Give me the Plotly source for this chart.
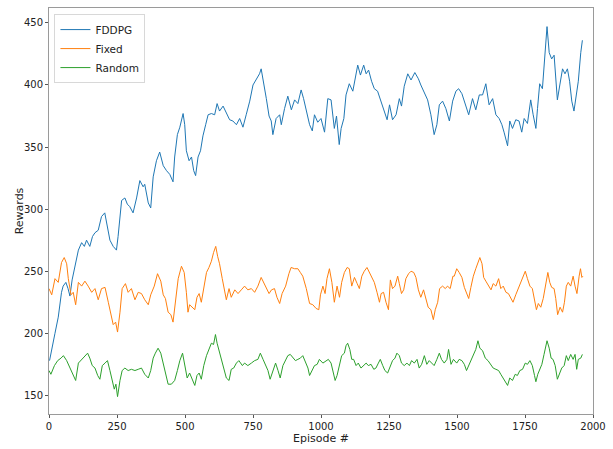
import plotly.graph_objects as go

# ---- data ----
fddpg_ep = [2, 12, 22, 34, 46, 52, 62, 70, 77, 85, 96, 108, 120, 130, 138, 150, 160, 169, 181, 193,
            205, 212, 224, 236, 248, 254, 267, 279, 288, 297, 309, 322, 334, 346, 352, 365, 374, 383, 395, 407,
            420, 432, 444, 456, 462, 472, 481, 493, 499, 505, 515, 524, 532, 539, 548, 557, 566, 576, 585, 597,
            609, 618, 627, 640, 652, 664, 676, 689, 701, 713, 725, 738, 750, 762, 774, 780, 789, 799, 809, 817,
            823, 835, 848, 854, 866, 878, 891, 903, 915, 927, 936, 946, 958, 968, 976, 988, 1000, 1013, 1025, 1037,
            1049, 1057, 1067, 1074, 1084, 1092, 1104, 1117, 1129, 1135, 1145, 1157, 1166, 1175, 1186, 1196, 1208, 1221, 1233, 1243,
            1252, 1263, 1276, 1288, 1296, 1306, 1319, 1331, 1345, 1358, 1367, 1380, 1392, 1404, 1416, 1426, 1435, 1447, 1459, 1472,
            1484, 1496, 1506, 1518, 1530, 1543, 1557, 1569, 1582, 1594, 1606, 1618, 1631, 1643, 1655, 1665, 1673, 1686, 1694, 1704,
            1716, 1728, 1738, 1747, 1759, 1771, 1780, 1790, 1796, 1804, 1814, 1824, 1831, 1839, 1848, 1857, 1863, 1869, 1878, 1888,
            1897, 1906, 1914, 1922, 1930, 1939, 1946, 1955, 1961]
fddpg = [178, 190, 200, 213, 233, 238, 241, 236, 230, 243, 255, 267, 273, 270, 275, 270, 278, 281, 283, 294,
         297, 289, 275, 270, 267, 278, 307, 309, 304, 302, 297, 309, 323, 318, 320, 305, 301, 326, 339, 346,
         335, 331, 328, 322, 342, 360, 366, 377, 368, 347, 339, 342, 331, 327, 342, 347, 359, 368, 376, 377,
         376, 385, 379, 383, 377, 372, 371, 368, 373, 366, 376, 387, 400, 405, 409, 413, 403, 389, 375, 371,
         360, 373, 376, 368, 381, 391, 380, 388, 385, 396, 389, 379, 368, 363, 376, 370, 373, 362, 389, 388,
         365, 375, 352, 365, 373, 392, 401, 395, 410, 416, 408, 416, 409, 412, 403, 397, 395, 387, 379, 372,
         384, 372, 376, 389, 383, 399, 409, 404, 410, 405, 400, 393, 388, 376, 360, 368, 384, 387, 381, 371,
         387, 395, 397, 393, 385, 376, 389, 380, 392, 392, 401, 384, 389, 376, 373, 368, 362, 351, 371, 365,
         372, 371, 362, 373, 369, 388, 376, 365, 381, 401, 397, 426, 447, 426, 421, 424, 405, 388, 400, 413,
         409, 413, 403, 387, 379, 392, 403, 426, 436]

fixed_ep = [0, 10, 22, 34, 46, 56, 65, 71, 81, 89, 98, 108, 120, 132, 144, 157, 169, 181, 193, 206,
            218, 228, 236, 245, 252, 261, 269, 281, 291, 303, 316, 328, 340, 352, 365, 374, 387, 399, 411, 420,
            428, 438, 448, 456, 465, 475, 487, 497, 505, 511, 517, 527, 536, 544, 552, 560, 569, 579, 588, 597,
            605, 613, 620, 627, 637, 646, 652, 662, 670, 683, 695, 707, 719, 731, 744, 756, 768, 780, 789, 799,
            809, 818, 829, 838, 848, 857, 870, 882, 890, 903, 915, 924, 933, 946, 958, 970, 982, 992, 998, 1007,
            1015, 1022, 1031, 1040, 1049, 1059, 1068, 1076, 1086, 1096, 1104, 1113, 1123, 1133, 1141, 1150, 1159, 1169, 1178, 1186,
            1196, 1206, 1215, 1221, 1230, 1239, 1248, 1255, 1263, 1272, 1282, 1288, 1296, 1304, 1312, 1322, 1331, 1341, 1349, 1358,
            1367, 1377, 1386, 1394, 1404, 1413, 1420, 1429, 1436, 1447, 1457, 1465, 1475, 1485, 1490, 1499, 1508, 1518, 1527, 1535,
            1543, 1551, 1560, 1569, 1577, 1584, 1592, 1598, 1606, 1616, 1625, 1633, 1643, 1653, 1661, 1670, 1680, 1689, 1698, 1706,
            1716, 1726, 1735, 1743, 1751, 1759, 1768, 1777, 1785, 1792, 1799, 1808, 1817, 1826, 1834, 1841, 1848, 1857, 1863, 1870,
            1879, 1888, 1895, 1902, 1909, 1918, 1927, 1934, 1941, 1949, 1954, 1959, 1963]
fixed = [236, 231, 244, 241, 257, 261, 256, 244, 231, 233, 223, 241, 238, 242, 238, 233, 236, 227, 236, 237,
         225, 215, 207, 209, 201, 217, 236, 240, 233, 236, 227, 233, 232, 227, 223, 231, 238, 248, 242, 231,
         228, 217, 215, 209, 225, 244, 254, 249, 233, 217, 223, 221, 219, 229, 232, 225, 236, 249, 253, 258,
         265, 270, 262, 256, 244, 235, 227, 236, 229, 235, 232, 235, 238, 235, 236, 233, 238, 245, 241, 236,
         232, 235, 236, 229, 224, 232, 238, 248, 253, 252, 252, 249, 246, 236, 224, 223, 220, 219, 231, 238,
         232, 244, 252, 241, 225, 238, 229, 241, 249, 253, 252, 238, 245, 240, 236, 246, 250, 253, 249, 245,
         241, 233, 225, 232, 233, 225, 219, 243, 236, 238, 246, 240, 232, 235, 244, 248, 250, 249, 245, 235,
         229, 235, 227, 221, 219, 211, 219, 225, 236, 238, 236, 238, 236, 246, 246, 252, 249, 245, 237, 233,
         228, 237, 246, 252, 257, 261, 256, 245, 242, 238, 235, 240, 238, 244, 236, 238, 233, 232, 228, 225,
         231, 236, 241, 246, 250, 244, 238, 236, 227, 219, 224, 221, 228, 241, 249, 241, 237, 236, 228, 215,
         221, 217, 225, 238, 241, 238, 246, 238, 232, 246, 252, 245, 246]

random_ep = [0, 7, 20, 32, 44, 53, 65, 77, 89, 98, 108, 120, 132, 142, 150, 159, 169, 179, 187, 196,
             206, 215, 224, 232, 240, 246, 252, 261, 269, 279, 291, 303, 316, 328, 340, 352, 365, 374, 383, 391,
             401, 411, 420, 428, 438, 450, 462, 472, 481, 491, 499, 508, 517, 527, 536, 544, 552, 560, 569, 579,
             588, 597, 605, 612, 618, 625, 634, 642, 652, 662, 670, 679, 689, 698, 711, 719, 731, 744, 756, 768,
             777, 787, 796, 805, 813, 823, 833, 842, 850, 860, 870, 878, 887, 897, 906, 915, 924, 933, 943, 952,
             958, 968, 976, 986, 994, 1007, 1019, 1027, 1037, 1043, 1052, 1059, 1068, 1076, 1086, 1092, 1098, 1106, 1113, 1120,
             1129, 1137, 1147, 1157, 1166, 1174, 1184, 1194, 1202, 1211, 1218, 1227, 1235, 1245, 1255, 1263, 1272, 1279, 1288, 1296,
             1306, 1316, 1325, 1333, 1343, 1353, 1361, 1370, 1380, 1389, 1398, 1407, 1416, 1426, 1435, 1443, 1453, 1463, 1469, 1478,
             1487, 1499, 1508, 1518, 1527, 1535, 1545, 1555, 1563, 1569, 1577, 1584, 1594, 1604, 1614, 1625, 1633, 1643, 1653, 1661,
             1670, 1677, 1686, 1694, 1704, 1714, 1722, 1731, 1741, 1751, 1759, 1768, 1777, 1785, 1790, 1797, 1804, 1812, 1820, 1826,
             1831, 1839, 1846, 1853, 1861, 1869, 1875, 1885, 1894, 1902, 1909, 1918, 1927, 1934, 1940, 1946, 1955, 1961]
random_vals = [170, 167, 174, 178, 180, 182, 178, 172, 167, 162, 176, 179, 182, 184, 180, 174, 172, 166, 163, 174,
               176, 178, 170, 162, 155, 159, 149, 162, 170, 172, 170, 171, 170, 171, 172, 167, 164, 170, 180, 184,
               188, 184, 176, 170, 159, 159, 162, 170, 178, 184, 175, 164, 168, 162, 158, 166, 168, 163, 174, 182,
               187, 192, 191, 199, 192, 186, 178, 171, 164, 162, 171, 172, 176, 178, 174, 176, 174, 176, 178, 179,
               184, 179, 174, 170, 163, 170, 176, 170, 164, 174, 178, 182, 183, 180, 178, 179, 180, 182, 176, 172,
               166, 170, 174, 175, 179, 176, 178, 179, 176, 170, 162, 166, 174, 182, 184, 190, 192, 187, 179, 179,
               174, 176, 172, 174, 176, 174, 175, 171, 172, 176, 179, 174, 170, 168, 174, 178, 180, 184, 182, 176,
               174, 176, 174, 178, 176, 179, 172, 175, 182, 175, 178, 176, 174, 179, 184, 179, 176, 179, 187, 175,
               179, 176, 179, 178, 175, 170, 175, 180, 184, 187, 194, 188, 186, 180, 178, 175, 172, 171, 170, 167,
               164, 162, 158, 164, 162, 167, 166, 170, 171, 176, 175, 178, 174, 166, 161, 167, 171, 175, 183, 191,
               194, 188, 180, 179, 174, 163, 167, 172, 174, 182, 178, 183, 179, 183, 171, 179, 180, 183]

x_ticks = [0, 250, 500, 750, 1000, 1250, 1500, 1750, 2000]
y_ticks = [150, 200, 250, 300, 350, 400, 450]

fig = go.Figure()
series = [
    ("FDDPG", fddpg_ep, fddpg, "#1f77b4"),
    ("Fixed", fixed_ep, fixed, "#ff7f0e"),
    ("Random", random_ep, random_vals, "#2ca02c"),
]
for name, xs, ys, col in series:
    fig.add_trace(go.Scatter(x=xs, y=ys, mode="lines", name=name,
                             line=dict(color=col, width=1)))

axis_common = dict(showgrid=False, zeroline=False, showline=True, mirror=True,
                   linecolor="#9a9a9a", linewidth=1, ticks="outside", ticklen=3,
                   tickcolor="#555", tickfont=dict(family="DejaVu Sans", size=10, color="#222"))

fig.update_xaxes(range=[0, 2000], tickvals=x_ticks,
                 title=dict(text="Episode #", font=dict(family="DejaVu Sans", size=11, color="#222"), standoff=2),
                 **axis_common)
fig.update_yaxes(range=[135, 462], tickvals=y_ticks, **axis_common)

# y-axis title placed as text (matplotlib puts it closer to the tick labels than plotly's minimum standoff)
fig.add_annotation(text="Rewards", xref="paper", yref="paper", x=-0.0545, y=0.5,
                   xanchor="center", yanchor="middle", textangle=-90, showarrow=False,
                   font=dict(family="DejaVu Sans", size=11, color="#222"))

fig.update_layout(
    width=613, height=449,
    margin=dict(l=49, r=19, t=7, b=27),
    paper_bgcolor="white", plot_bgcolor="white",
    font=dict(family="DejaVu Sans", size=10, color="#222"),
    legend=dict(x=0.01, y=0.985, xanchor="left", yanchor="top",
                bgcolor="rgba(255,255,255,0.85)", bordercolor="#d8d8d8", borderwidth=1,
                font=dict(family="DejaVu Sans", size=10.5, color="#222"),
                tracegroupgap=0, itemwidth=30),
    showlegend=True,
)

fig.write_html("out.html", config={"displayModeBar": False},
               post_script="document.body.style.margin='0px';")
